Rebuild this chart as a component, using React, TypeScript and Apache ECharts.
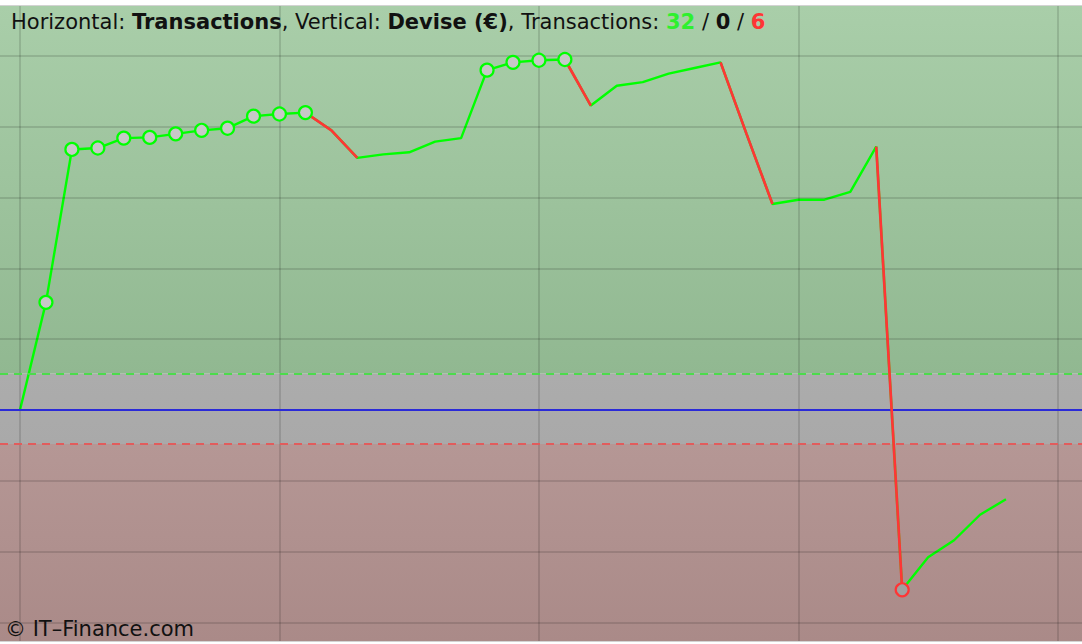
import React, { useEffect, useRef } from "react";
import * as echarts from "echarts";

// Equity value after each transaction (index 0 = start), in €
const equity: number[] = [
  0, 152, 368, 370, 384, 385, 390, 395, 398, 415, 418, 420, 395, 356, 361, 364,
  379, 384, 480, 491, 494, 495, 430, 458, 463, 475, 483, 491, 390, 291, 297, 297,
  308, 372, -254, -208, -184, -148, -126,
];
// Runs of losing transactions (start index, end index)
const losingRuns: number[][] = [
  [11, 13],
  [21, 22],
  [27, 29],
  [33, 34],
];
// Transactions that set a new high / new low
const newHighs: number[] = [1, 2, 3, 4, 5, 6, 7, 8, 9, 10, 11, 18, 19, 20, 21];
const newLows: number[] = [34];
// Grid lines
const yGridValues: number[] = [500, 400, 300, 200, 100, -100, -200, -300];
const xGridValues: number[] = [0, 10, 20, 30, 40];
const upperBand = 51;
const lowerBand = -48;
const counts = { win: "32", flat: "0", loss: "6" };

const X_MIN = -0.771;
const X_MAX = 40.93;
const Y_MIN = -326.3;
const Y_MAX = 570.6;

const FONT = "DejaVu Sans";
const FS = 21;

export default function App() {
  const ref = useRef<HTMLDivElement>(null);
  useEffect(() => {
    document.body.style.margin = "0";
    if (!ref.current) return;
    const chart = echarts.init(ref.current, undefined, { renderer: "svg" });
    const pts = equity.map((v, i) => [i, v]);
    const grad = (a: string, b: string) => ({
      type: "linear",
      x: 0,
      y: 0,
      x2: 0,
      y2: 1,
      colorStops: [
        { offset: 0, color: a },
        { offset: 1, color: b },
      ],
    });
    const series: any[] = [
      {
        type: "line",
        data: [],
        z: 1,
        silent: true,
        markArea: {
          silent: true,
          label: { show: false },
          data: [
            [
              { xAxis: X_MIN, yAxis: Y_MAX, itemStyle: { color: grad("#a9cea9", "#91b891") } },
              { xAxis: X_MAX, yAxis: upperBand },
            ],
            [
              { xAxis: X_MIN, yAxis: upperBand, itemStyle: { color: grad("#acacac", "#a9a9a9") } },
              { xAxis: X_MAX, yAxis: lowerBand },
            ],
            [
              { xAxis: X_MIN, yAxis: lowerBand, itemStyle: { color: grad("#b59795", "#aa8a88") } },
              { xAxis: X_MAX, yAxis: Y_MIN },
            ],
          ],
        },
      },
      {
        type: "line",
        data: [],
        z: 2,
        silent: true,
        markLine: {
          silent: true,
          symbol: ["none", "none"],
          label: { show: false },
          lineStyle: { color: "rgba(0,0,0,0.12)", width: 2, type: "solid" },
          data: [
            ...yGridValues.map((v) => ({ yAxis: v })),
            ...xGridValues.map((v) => ({ xAxis: v })),
          ],
        },
      },
      {
        type: "line",
        data: [],
        z: 3,
        silent: true,
        markLine: {
          silent: true,
          symbol: ["none", "none"],
          label: { show: false },
          data: [
            { yAxis: upperBand, lineStyle: { color: "#4cdc4c", width: 2, type: [8, 6] } },
            { yAxis: lowerBand, lineStyle: { color: "#e25c5c", width: 2, type: [8, 6] } },
            { yAxis: 0, lineStyle: { color: "#2a2ad8", width: 2, type: "solid" } },
          ],
        },
      },
      {
        type: "line",
        data: pts,
        z: 4,
        showSymbol: false,
        lineStyle: { color: "#00ff00", width: 2.4 },
        silent: true,
      },
      ...losingRuns.map((r) => ({
        type: "line",
        data: pts.slice(r[0], r[1] + 1),
        z: 5,
        showSymbol: false,
        lineStyle: { color: "#ff3535", width: 2.7 },
        silent: true,
      })),
      {
        type: "scatter",
        z: 6,
        data: newHighs.map((i) => [i, equity[i]]),
        symbol: "circle",
        symbolSize: 13,
        itemStyle: { color: "#c8c8c8", borderColor: "#00ff00", borderWidth: 2.2, opacity: 1 },
        silent: true,
      },
      {
        type: "scatter",
        z: 6,
        data: newLows.map((i) => [i, equity[i]]),
        symbol: "circle",
        symbolSize: 13,
        itemStyle: { color: "#a0a0a0", borderColor: "#ff3535", borderWidth: 2.2, opacity: 1 },
        silent: true,
      },
    ];
    chart.setOption({
      animation: false,
      backgroundColor: "#ffffff",
      grid: {
        left: 0,
        right: 0,
        top: 6,
        bottom: 3,
        show: true,
        borderColor: "rgba(0,0,0,0.35)",
        borderWidth: 1,
        backgroundColor: "transparent",
      },
      title: {
        left: 6,
        top: 6,
        text:
          "{n|Horizontal: }{b|Transactions}{n|, Vertical: }{b|Devise (€)}{n|, Transactions: }" +
          `{g|${counts.win}}{n| / }{b|${counts.flat}}{n| / }{r|${counts.loss}}`,
        textStyle: {
          fontFamily: FONT,
          fontSize: FS,
          fontWeight: "normal",
          rich: {
            n: { fontFamily: FONT, fontSize: FS, color: "#111111", fontWeight: "normal" },
            b: { fontFamily: FONT, fontSize: FS, color: "#111111", fontWeight: "bold" },
            g: { fontFamily: FONT, fontSize: FS, color: "#2ef02e", fontWeight: "bold" },
            r: { fontFamily: FONT, fontSize: FS, color: "#ff3535", fontWeight: "bold" },
          },
        },
      },
      graphic: [
        {
          type: "text",
          left: 5,
          bottom: 5,
          z: 100,
          style: {
            text: "© IT–Finance.com",
            fontFamily: FONT,
            fontSize: 21,
            fill: "#111111",
          },
        },
      ],
      xAxis: {
        type: "value",
        min: X_MIN,
        max: X_MAX,
        axisLine: { show: false },
        splitLine: { show: false },
        axisLabel: { show: false },
        axisTick: {
          show: true,
          customValues: xGridValues,
          length: 3,
          lineStyle: { color: "#777777", width: 2 },
        },
      },
      yAxis: {
        type: "value",
        min: Y_MIN,
        max: Y_MAX,
        axisLine: { show: false },
        splitLine: { show: false },
        axisLabel: { show: false },
        axisTick: { show: false },
      },
      series,
    });
    return () => chart.dispose();
  }, []);
  return <div ref={ref} style={{ width: 1082, height: 644 }} />;
}
